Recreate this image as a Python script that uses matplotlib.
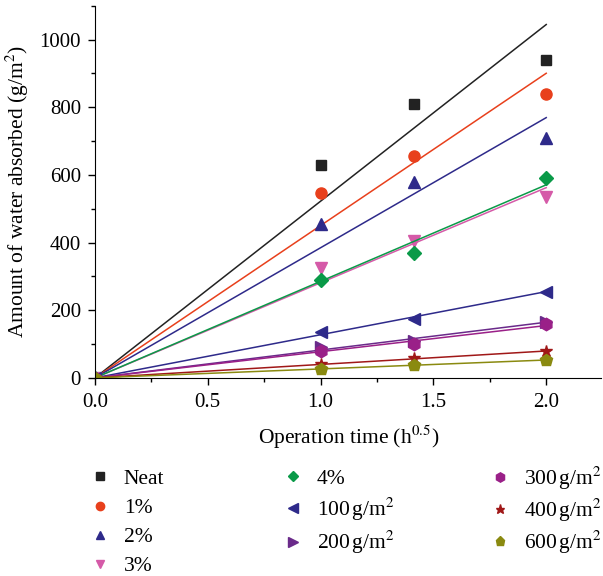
import matplotlib
matplotlib.use("Agg")
import matplotlib.pyplot as plt
from matplotlib.ticker import MultipleLocator, FormatStrFormatter
import numpy as np

plt.rcParams['font.family'] = ['Liberation Serif', 'DejaVu Serif']
plt.rcParams['mathtext.fontset'] = 'stix'

# operation time (h^0.5)
t = [0.0, 1.0, 1.414, 2.0]

labels = ['Neat', '1%', '2%', '3%', '4%',
          r'100$\,$g/m$^2$', r'200$\,$g/m$^2$', r'300$\,$g/m$^2$',
          r'400$\,$g/m$^2$', r'600$\,$g/m$^2$']
neat = [0, 630, 810, 940]
p1 = [0, 545, 655, 840]
p2 = [0, 455, 578, 710]
p3 = [0, 325, 405, 535]
p4 = [0, 290, 370, 592]
g100 = [0, 135, 175, 255]
g200 = [0, 90, 110, 165]
g300 = [0, 80, 100, 160]
g400 = [0, 40, 58, 78]
g600 = [0, 25, 38, 53]
series = [neat, p1, p2, p3, p4, g100, g200, g300, g400, g600]

colors = ['#222222', '#e8401c', '#2e2a8a', '#d55aa8', '#0a9a48',
          '#2e2a8a', '#6a2a8a', '#9a2088', '#a01818', '#8a8a10']
markers = ['s', 'o', '^', 'v', 'D', '<', '>', 'h', '*', 'p']
msizes = [7, 8, 8, 8, 7, 9, 9, 9, 9, 9]

fig = plt.figure(figsize=(6.03, 5.76), dpi=100)
ax = fig.add_axes([0.1575, 0.344, 0.84, 0.646])

x = np.array(t)
handles = []
for ys, c, m, ms, lab in zip(series, colors, markers, msizes, labels):
    y = np.array(ys, dtype=float)
    k = np.sum(x * y) / np.sum(x * x)   # linear fit through origin
    ax.plot([0, 2.0], [0, 2.0 * k], color=c, lw=1.1)
    h, = ax.plot(x, y, ls='none', marker=m, color=c, ms=ms, label=lab)
    handles.append(h)

ax.set_xlim(0, 2.245)
ax.set_ylim(0, 1100)
ax.xaxis.set_major_locator(MultipleLocator(0.5))
ax.xaxis.set_minor_locator(MultipleLocator(0.25))
ax.yaxis.set_major_locator(MultipleLocator(200))
ax.yaxis.set_minor_locator(MultipleLocator(100))
ax.xaxis.set_major_formatter(FormatStrFormatter('%.1f'))
ax.spines['top'].set_visible(False)
ax.spines['right'].set_visible(False)
ax.tick_params(labelsize=15, length=5, width=1)
ax.tick_params(axis='x', pad=6)
ax.tick_params(axis='y', pad=5)
ax.tick_params(which='minor', length=3, width=1)
ax.set_xlabel(r'Operation time (h$^{0.5}$)', fontsize=15.5, labelpad=8)
ax.set_ylabel(r'Amount of water absorbed (g/m$^2$)', fontsize=15.5, labelpad=6)

# legend: three columns placed under the axes
cols = [handles[0:4], handles[4:7], handles[7:10]]
xpos = [0.148, 0.468, 0.812]
ypos = [0.186, 0.186, 0.193]
spacing = [0.42, 0.3, 0.22]
for hs, xp, yp, sp in zip(cols, xpos, ypos, spacing):
    fig.legend(handles=hs, loc='upper left', bbox_to_anchor=(xp, yp),
               frameon=False, fontsize=15.5, markerscale=0.75,
               handlelength=1.0, handletextpad=0.6, labelspacing=sp,
               borderpad=0, borderaxespad=0)

fig.savefig('out.png', dpi=100)
